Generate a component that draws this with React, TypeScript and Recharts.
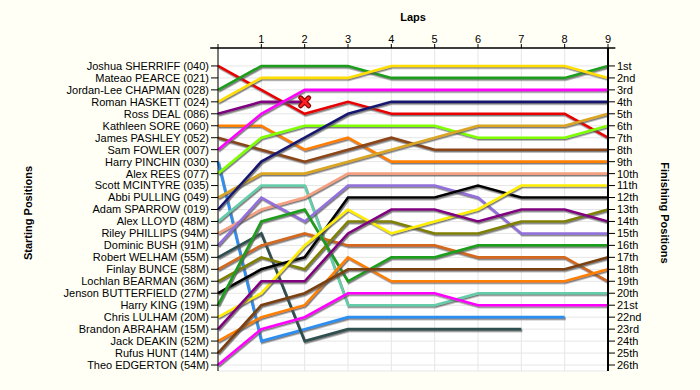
import React from "react";
import { LineChart, Line, XAxis, YAxis, CartesianGrid, ReferenceLine } from "recharts";

const laps = [0, 1, 2, 3, 4, 5, 6, 7, 8, 9];

const startingGrid = [
  "Joshua SHERRIFF (040)", "Mateao PEARCE (021)", "Jordan-Lee CHAPMAN (028)", "Roman HASKETT (024)",
  "Ross DEAL (086)", "Kathleen SORE (060)", "James PASHLEY (052)", "Sam FOWLER (007)",
  "Harry PINCHIN (030)", "Alex REES (077)", "Scott MCINTYRE (035)", "Abbi PULLING (049)",
  "Adam SPARROW (019)", "Alex LLOYD (48M)", "Riley PHILLIPS (94M)", "Dominic BUSH (91M)",
  "Robert WELHAM (55M)", "Finlay BUNCE (58M)", "Lochlan BEARMAN (36M)", "Jenson BUTTERFIELD (27M)",
  "Harry KING (19M)", "Chris LULHAM (20M)", "Brandon ABRAHAM (15M)", "Jack DEAKIN (52M)",
  "Rufus HUNT (14M)", "Theo EDGERTON (54M)",
];

const finishing = [
  "1st", "2nd", "3rd", "4th", "5th", "6th", "7th", "8th", "9th", "10th", "11th", "12th", "13th",
  "14th", "15th", "16th", "17th", "18th", "19th", "20th", "21st", "22nd", "23rd", "24th", "25th", "26th",
];

// position at the end of each lap (index 0 = grid)
const sherriff = [1, 3, 5, 4, 5, 5, 5, 5, 5, 7];
const chapman = [3, 1, 1, 1, 2, 2, 2, 2, 2, 1];
const haskett = [4, 2, 2, 2, 1, 1, 1, 1, 1, 2];
const deal = [5, 4, 4];
const sore = [6, 6, 8, 7, 9, 9, 9, 9, 9, 9];
const pashley = [7, 8, 9, 8, 7, 8, 8, 8, 8, 8];
const fowler = [8, 5, 3, 3, 3, 3, 3, 3, 3, 3];
const pinchin = [9, 24, 23, 22, 22, 22, 22, 22, 22];
const rees = [10, 7, 6, 6, 6, 6, 7, 7, 7, 6];
const pulling = [12, 10, 10, 9, 8, 7, 6, 6, 6, 5];
const sparrow = [13, 9, 7, 5, 4, 4, 4, 4, 4, 4];
const lloyd = [14, 11, 11, 21, 21, 21, 20, 20, 20, 20];
const phillips = [15, 13, 12, 10, 10, 10, 10, 10, 10, 10];
const bush = [16, 12, 14, 11, 11, 11, 12, 15, 15, 15];
const welham = [17, 15, 24, 23, 23, 23, 23, 23];
const bunce = [18, 16, 15, 16, 16, 16, 17, 17, 17, 19];
const bearman = [19, 17, 18, 14, 14, 15, 15, 14, 14, 13];
const butterfield = [20, 18, 17, 12, 12, 12, 11, 12, 12, 12];
const king = [21, 14, 13, 19, 17, 17, 16, 16, 16, 16];
const lulham = [22, 20, 16, 13, 15, 14, 13, 11, 11, 11];
const abraham = [23, 19, 19, 15, 13, 13, 14, 13, 13, 14];
const deakin = [24, 22, 21, 17, 19, 19, 19, 19, 19, 18];
const hunt = [25, 21, 20, 18, 18, 18, 18, 18, 18, 17];
const edgerton = [26, 23, 22, 20, 20, 20, 21, 21, 21, 21];

const series = [
  { key: "sherriff", pos: sherriff, color: "#e80000" },
  { key: "chapman", pos: chapman, color: "#1e9e1e" },
  { key: "haskett", pos: haskett, color: "#ffdd00" },
  { key: "deal", pos: deal, color: "#800080" },
  { key: "sore", pos: sore, color: "#ff8000" },
  { key: "pashley", pos: pashley, color: "#8b4513" },
  { key: "fowler", pos: fowler, color: "#ff00ff" },
  { key: "pinchin", pos: pinchin, color: "#2a8ff0" },
  { key: "rees", pos: rees, color: "#80ff00" },
  { key: "pulling", pos: pulling, color: "#daa520" },
  { key: "sparrow", pos: sparrow, color: "#191970" },
  { key: "lloyd", pos: lloyd, color: "#66cdaa" },
  { key: "phillips", pos: phillips, color: "#f5a080" },
  { key: "bush", pos: bush, color: "#9370db" },
  { key: "welham", pos: welham, color: "#2f4f4f" },
  { key: "bunce", pos: bunce, color: "#d2691e" },
  { key: "bearman", pos: bearman, color: "#808000" },
  { key: "butterfield", pos: butterfield, color: "#000000" },
  { key: "king", pos: king, color: "#1e9e1e" },
  { key: "lulham", pos: lulham, color: "#ffee00" },
  { key: "abraham", pos: abraham, color: "#800080" },
  { key: "deakin", pos: deakin, color: "#ff8000" },
  { key: "hunt", pos: hunt, color: "#7a3f10" },
  { key: "edgerton", pos: edgerton, color: "#ff00ff" },
];

const data = laps.map((lap, i) => {
  const row: Record<string, number> = { lap };
  series.forEach((s) => {
    if (s.pos[i] !== undefined) row[s.key] = s.pos[i];
  });
  return row;
});

const positions = startingGrid.map((_, i) => i + 1);
const font = "'Liberation Sans', Arial, sans-serif";

const RetiredMark = (props: any) => {
  const { cx, cy, index } = props;
  if (index !== deal.length - 1) return <g key={`d${index}`} />;
  const s = 4;
  const d = `M${cx - s},${cy - s}L${cx + s},${cy + s}M${cx - s},${cy + s}L${cx + s},${cy - s}`;
  return (
    <g key={`d${index}`}>
      <path d={d} stroke="#8a0000" strokeWidth={5} strokeLinecap="round" />
      <path d={d} stroke="#ff2020" strokeWidth={2.6} strokeLinecap="round" />
    </g>
  );
};

export default function App() {
  return (
    <div style={{ position: "absolute", left: 0, top: 0, width: 700, height: 390, background: "#fffff6", fontFamily: font }}>
      <style>{`.recharts-line-curve { filter: url(#lineShadow); }`}</style>
      <LineChart width={700} height={390} data={data} margin={{ top: 0, right: 0, bottom: 19, left: 0 }}>
        <defs>
          <filter id="lineShadow" filterUnits="userSpaceOnUse" x="0" y="0" width="700" height="390">
            <feDropShadow dx="1" dy="1.5" stdDeviation="0.3" floodColor="#555555" floodOpacity="0.75" />
          </filter>
        </defs>
        <CartesianGrid yAxisId="start" fill="#ffffff" stroke="#e6e6e6" strokeWidth={1} />
        <XAxis
          dataKey="lap"
          type="number"
          orientation="top"
          domain={[0, 9]}
          ticks={laps}
          tickFormatter={(v) => (v === 0 ? "" : String(v))}
          height={48}
          tickSize={4}
          tickMargin={1}
          axisLine={false}
          tickLine={{ stroke: "#000" }}
          tick={{ fill: "#000", fontSize: 11, fontFamily: font }}
          label={{ value: "Laps", position: "insideTop", offset: 13, fill: "#000", fontSize: 11, fontWeight: "bold", fontFamily: font }}
        />
        <YAxis
          yAxisId="start"
          type="number"
          reversed
          domain={[-0.5, 26.5]}
          ticks={positions}
          interval={0}
          width={218}
          tickSize={7}
          tickMargin={2}
          tickFormatter={(v) => startingGrid[v - 1]}
          axisLine={{ stroke: "#000" }}
          tickLine={{ stroke: "#000" }}
          tick={{ fill: "#000", fontSize: 11, fontFamily: font }}
        />
        <YAxis
          yAxisId="finish"
          orientation="right"
          type="number"
          reversed
          domain={[-0.5, 26.5]}
          ticks={positions}
          interval={0}
          width={92}
          tickSize={7}
          tickMargin={2}
          tickFormatter={(v) => finishing[v - 1]}
          axisLine={{ stroke: "#000", strokeWidth: 2 }}
          tickLine={{ stroke: "#000" }}
          tick={{ fill: "#000", fontSize: 11, fontFamily: font }}
        />
        <ReferenceLine
          yAxisId="start"
          segment={[{ x: -0.18, y: -0.5 }, { x: 9.17, y: -0.5 }]}
          ifOverflow="visible"
          stroke="#000"
          strokeWidth={1.5}
        />
        {/* invisible series so the right axis has something bound to it */}
        <Line
          yAxisId="finish"
          dataKey="chapman"
          stroke="none"
          strokeWidth={0}
          dot={false}
          activeDot={false}
          isAnimationActive={false}
          legendType="none"
        />
        {series.map((s) => (
          <Line
            key={s.key}
            yAxisId="start"
            dataKey={s.key}
            stroke={s.color}
            strokeWidth={2.6}
            dot={s.key === "deal" ? RetiredMark : false}
            activeDot={false}
            isAnimationActive={false}
            type="linear"
          />
        ))}
        <text x={28} y={213} transform="rotate(-90 28 213)" textAnchor="middle" dominantBaseline="central" fontSize={11} fontWeight="bold" fontFamily={font} fill="#000">
          Starting Positions
        </text>
        <text x={665} y={213} transform="rotate(90 665 213)" textAnchor="middle" dominantBaseline="central" fontSize={11} fontWeight="bold" fontFamily={font} fill="#000">
          Finishing Positions
        </text>
      </LineChart>
    </div>
  );
}
